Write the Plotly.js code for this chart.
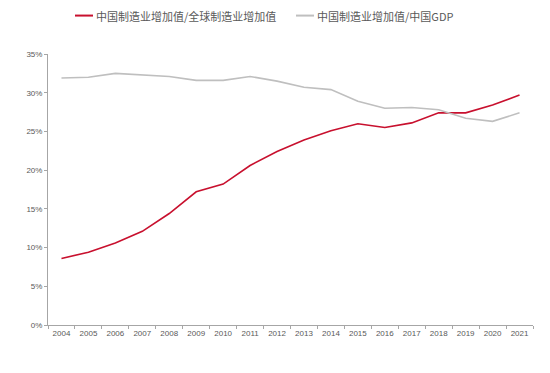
<!DOCTYPE html>
<html><head><meta charset="utf-8">
<script src="https://cdn.plot.ly/plotly-3.0.1.min.js"></script>
<style>html,body{margin:0;padding:0;background:#fff}#c{width:550px;height:373px}</style>
</head><body><div id="c"></div>
<script>
const years = ['2004','2005','2006','2007','2008','2009','2010','2011','2012','2013','2014','2015','2016','2017','2018','2019','2020','2021'];
const shareOfGlobal = [8.6,9.4,10.6,12.1,14.4,17.2,18.2,20.6,22.4,23.9,25.1,26.0,25.5,26.1,27.4,27.4,28.4,29.7];
const shareOfGDP = [31.9,32.0,32.5,32.3,32.1,31.6,31.6,32.1,31.5,30.7,30.4,28.9,28.0,28.1,27.8,26.7,26.3,27.4];
const seriesNames = ['中国制造业增加值/全球制造业增加值','中国制造业增加值/中国GDP'];
const seriesColors = ['#c8102e','#bfbfbf'];

const traces = [
  {x: years, y: shareOfGlobal.map(v=>v/100), name: seriesNames[0], type:'scatter', mode:'lines',
   line:{color:seriesColors[0], width:1.6}},
  {x: years, y: shareOfGDP.map(v=>v/100), name: seriesNames[1], type:'scatter', mode:'lines',
   line:{color:seriesColors[1], width:1.6}}
];
// custom legend placement (paper coords)
const W = 485, H = 271.5, L = 48, B = 325.5;
const px = v => (v - L) / W;
const py = v => (B - v) / H;
const legY = py(15.5);
const shapes = [
  {type:'line', xref:'paper', yref:'paper', x0:px(75), x1:px(93), y0:legY, y1:legY, line:{color:seriesColors[0], width:2}},
  {type:'line', xref:'paper', yref:'paper', x0:px(296), x1:px(314), y0:legY, y1:legY, line:{color:seriesColors[1], width:2}}
];
const annFont = {family:'Noto Sans CJK SC', size:11, color:'#595959'};
const annotations = [
  {xref:'paper', yref:'paper', x:px(94), y:legY, xanchor:'left', yanchor:'middle', text:seriesNames[0], showarrow:false, font:annFont},
  {xref:'paper', yref:'paper', x:px(315), y:legY, xanchor:'left', yanchor:'middle', text:seriesNames[1], showarrow:false, font:annFont}
];
const tickFont = {family:'Liberation Sans, Arial', size:8, color:'#595959'};
const layout = {
  width:550, height:373,
  margin:{l:48, r:17, t:54, b:47.5},
  paper_bgcolor:'#fff', plot_bgcolor:'#fff',
  showlegend:false, shapes, annotations,
  xaxis:{type:'category', range:[-0.5,17.5], showgrid:false, showline:true, linecolor:'#a6a6a6', linewidth:1,
    ticks:'outside', ticklen:3, tickcolor:'#a6a6a6', tickson:'boundaries', tickangle:0,
    tickfont:tickFont, zeroline:false, fixedrange:true},
  yaxis:{range:[0,0.35], dtick:0.05, tickformat:'.0%', showgrid:false, showline:true,
    linecolor:'#a6a6a6', linewidth:1, ticks:'outside', ticklen:3, tickcolor:'#a6a6a6',
    tickfont:tickFont, zeroline:false, fixedrange:true}
};
Plotly.newPlot('c', traces, layout, {displayModeBar:false, staticPlot:true});
</script></body></html>
